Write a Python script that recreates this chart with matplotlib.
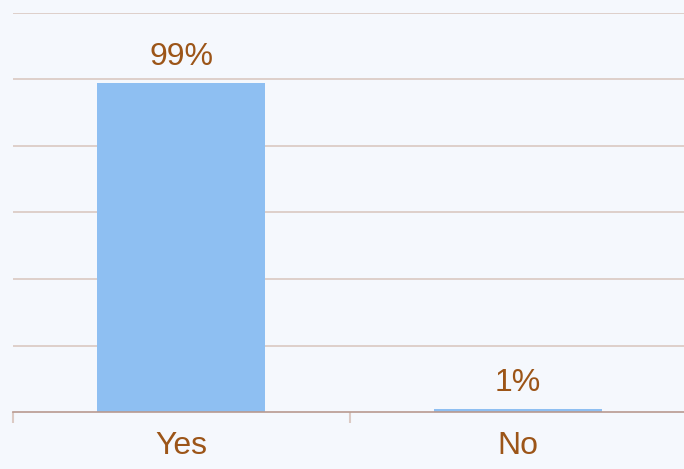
import matplotlib.pyplot as plt

plt.rcParams['font.family'] = ['Liberation Sans', 'DejaVu Sans']

categories = ['Yes', 'No']
shares = [0.99, 0.01]
labels = ['99%', '1%']

bg = '#f5f8fd'
text_color = '#9c5518'

fig = plt.figure(figsize=(6.84, 4.69), dpi=100, facecolor=bg)
ax = fig.add_axes([13 / 684, 57 / 469, 673 / 684, 399 / 469], facecolor=bg)

x = range(len(categories))
bars = ax.bar(x, shares, width=0.5, color='#8ebff2', zorder=3)

for bar, lab in zip(bars, labels):
    ax.annotate(lab, (bar.get_x() + bar.get_width() / 2, bar.get_height()),
                xytext=(0, 8), textcoords='offset points',
                ha='center', va='bottom', fontsize=23, color=text_color)

ax.set_xlim(-0.5, 1.5)
ax.set_ylim(0, 1.2)
ax.set_yticks([0.2, 0.4, 0.6, 0.8, 1.0, 1.2])
ax.yaxis.grid(True, color='#dac8c2', linewidth=1.2, zorder=0)
ax.tick_params(axis='y', left=False, labelleft=False)

ax.set_xticks(list(x))
ax.set_xticklabels(categories, fontsize=23, color=text_color)
ax.tick_params(axis='x', which='major', length=0, pad=14)
ax.set_xticks([-0.5, 0.5, 1.5], minor=True)
ax.tick_params(axis='x', which='minor', length=8, width=1.5, color='#dccac4')

for side in ['top', 'right', 'left']:
    ax.spines[side].set_visible(False)
ax.spines['bottom'].set_color('#b89a90')
ax.spines['bottom'].set_linewidth(1.2)
ax.spines['bottom'].set_zorder(4)

fig.savefig('out.png', dpi=100, facecolor=bg)
